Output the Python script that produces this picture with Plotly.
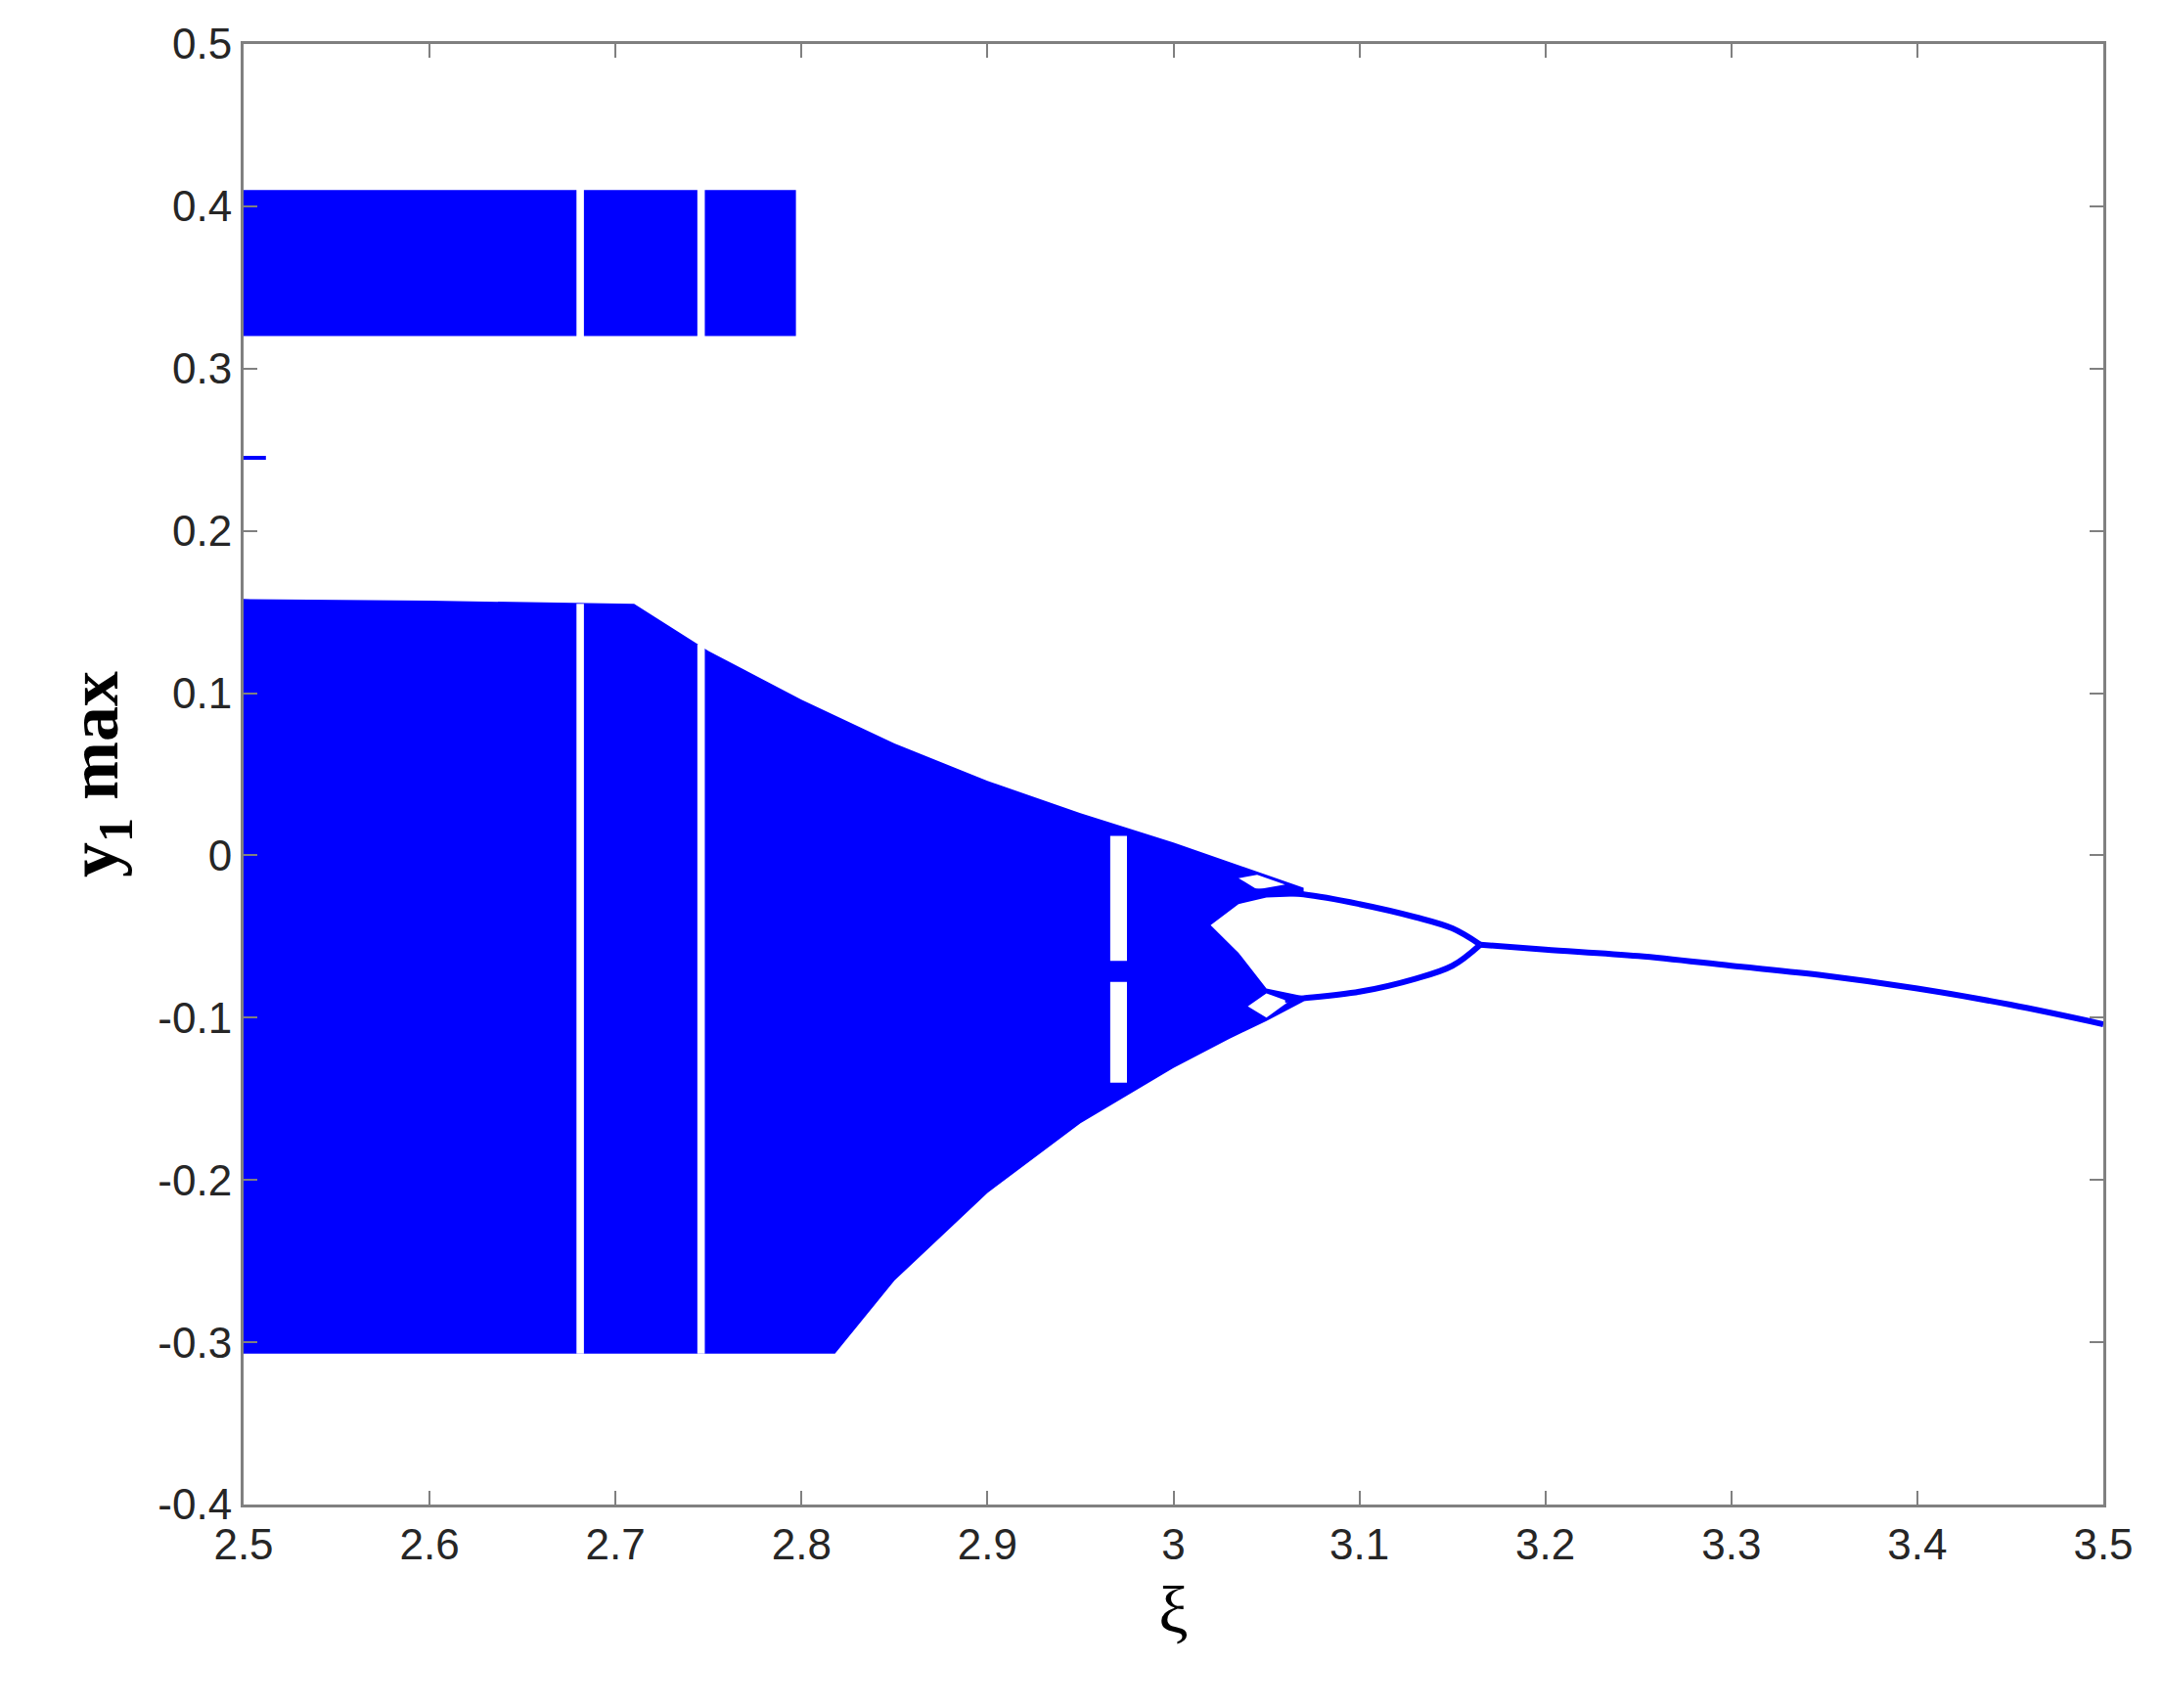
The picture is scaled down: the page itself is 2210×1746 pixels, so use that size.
import plotly.graph_objects as go

# Upper chaotic band (x ranges between white windows), y limits
upper_x_segments = [(2.5, 2.679), (2.683, 2.744), (2.748, 2.797)]
upper_y = (0.32, 0.41)
# isolated short segment
dash_x = [2.5, 2.512]
dash_y = [0.245, 0.245]

# Lower chaotic region boundaries
top_x = [2.5, 2.6, 2.71, 2.75, 2.8, 2.85, 2.9, 2.95, 3.0, 3.03, 3.05, 3.07]
top_y = [0.158, 0.157, 0.155, 0.126, 0.096, 0.069, 0.046, 0.026, 0.008, -0.004, -0.012, -0.02]
bot_x = [2.5, 2.818, 2.85, 2.9, 2.95, 3.0, 3.03, 3.05, 3.07]
bot_y = [-0.307, -0.307, -0.262, -0.208, -0.165, -0.131, -0.113, -0.102, -0.09]

# Period-2 branches and period-1 line
br_up_x = [3.04, 3.07, 3.1, 3.13, 3.15, 3.165]
br_up_y = [-0.022, -0.024, -0.03, -0.038, -0.045, -0.055]
br_lo_x = [3.06, 3.07, 3.1, 3.13, 3.15, 3.165]
br_lo_y = [-0.089, -0.088, -0.084, -0.076, -0.068, -0.055]
p1_x = [3.165, 3.2, 3.25, 3.3, 3.35, 3.4, 3.45, 3.5]
p1_y = [-0.055, -0.058, -0.062, -0.068, -0.074, -0.082, -0.092, -0.104]

# White windows inside chaotic region (x0, x1, y0, y1)
windows = [(2.679, 2.683, -0.307, 0.155), (2.744, 2.748, -0.307, 0.13),
           (2.966, 2.975, -0.065, 0.012), (2.966, 2.975, -0.14, -0.078)]
# Eye hole polygon
eye_x = [3.02, 3.035, 3.05, 3.071, 3.071, 3.05, 3.035, 3.02]
eye_y = [-0.043, -0.03, -0.026, -0.025, -0.087, -0.082, -0.06, -0.043]
hole_up_x = [3.035, 3.045, 3.06, 3.045, 3.035]
hole_up_y = [-0.014, -0.012, -0.018, -0.021, -0.014]
hole_lo_x = [3.04, 3.05, 3.062, 3.05, 3.04]
hole_lo_y = [-0.093, -0.085, -0.09, -0.1, -0.093]

BLUE = "#0000ff"
fig = go.Figure()
for x0, x1 in upper_x_segments:
    fig.add_trace(go.Scatter(x=[x0, x1, x1, x0, x0], y=[upper_y[0], upper_y[0], upper_y[1], upper_y[1], upper_y[0]],
                             fill="toself", fillcolor=BLUE, mode="lines", line=dict(width=0, color=BLUE), hoverinfo="skip"))
fig.add_trace(go.Scatter(x=dash_x, y=dash_y, mode="lines", line=dict(color=BLUE, width=4)))
fig.add_trace(go.Scatter(x=top_x + bot_x[::-1], y=top_y + bot_y[::-1], fill="toself", fillcolor=BLUE,
                         mode="lines", line=dict(width=0, color=BLUE)))
for x0, x1, y0, y1 in windows:
    fig.add_trace(go.Scatter(x=[x0, x1, x1, x0, x0], y=[y0, y0, y1, y1, y0], fill="toself", fillcolor="white",
                             mode="lines", line=dict(width=0, color="white")))
for hx, hy in [(eye_x, eye_y), (hole_up_x, hole_up_y), (hole_lo_x, hole_lo_y)]:
    fig.add_trace(go.Scatter(x=hx, y=hy, fill="toself", fillcolor="white", mode="lines", line=dict(width=0, color="white")))
for bx, by in [(br_up_x, br_up_y), (br_lo_x, br_lo_y), (p1_x, p1_y)]:
    fig.add_trace(go.Scatter(x=bx, y=by, mode="lines", line=dict(color=BLUE, width=6, shape="spline")))

axis = dict(showgrid=False, zeroline=False, mirror="ticks", showline=True, linecolor="#808080", linewidth=3,
            ticks="inside", ticklen=14, tickwidth=2, tickcolor="#808080", dtick=0.1,
            tickfont=dict(family="Liberation Sans", size=44, color="#262626"))
fig.update_layout(
    width=2210, height=1746, showlegend=False, plot_bgcolor="white", paper_bgcolor="white",
    margin=dict(l=241, r=68, t=35, b=216),
    xaxis=dict(axis, range=[2.5, 3.5], tickvals=[2.5, 2.6, 2.7, 2.8, 2.9, 3, 3.1, 3.2, 3.3, 3.4, 3.5],
               ticktext=["2.5", "2.6", "2.7", "2.8", "2.9", "3", "3.1", "3.2", "3.3", "3.4", "3.5"],
               title=dict(text="ξ", font=dict(family="Liberation Serif", size=68, color="black"), standoff=20)),
    yaxis=dict(axis, range=[-0.4, 0.5], tickvals=[-0.4, -0.3, -0.2, -0.1, 0, 0.1, 0.2, 0.3, 0.4, 0.5],
               ticktext=["-0.4", "-0.3", "-0.2", "-0.1", "0", "0.1", "0.2", "0.3", "0.4", "0.5"],
               title=dict(text="<b>y<sub>1</sub> max</b>", font=dict(family="Liberation Serif", size=72, color="black"), standoff=18)),
)
fig.write_html("out.html")
